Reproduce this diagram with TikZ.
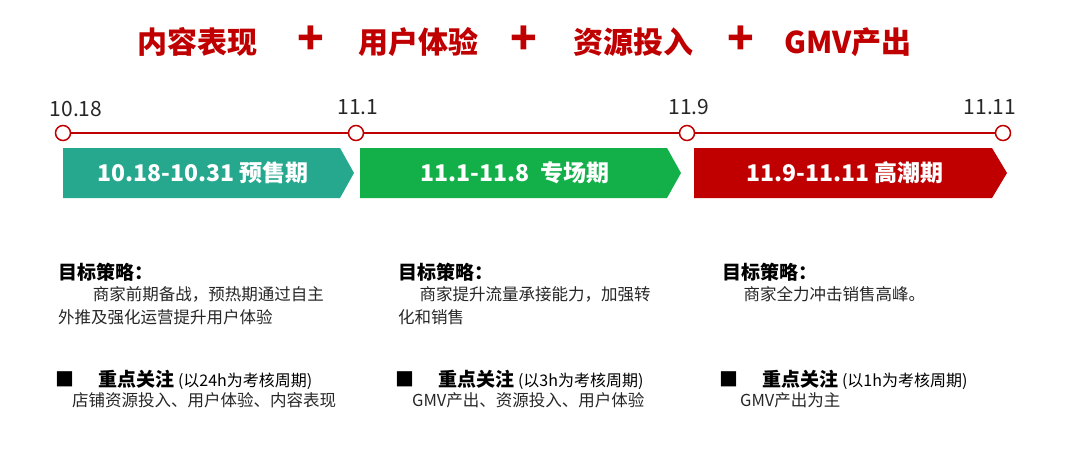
\documentclass[tikz,border=0pt]{standalone}
\usepackage{fontspec}
\setmainfont{Noto Sans CJK SC}
\definecolor{dred}{HTML}{C00000}
\definecolor{teal1}{HTML}{26A88F}
\definecolor{green1}{HTML}{13B04A}
\tikzset{
 ttl/.style={text=dred,font=\fontsize{30}{32}\selectfont\bfseries},
 plus/.style={text=dred,font=\fontsize{44}{44}\selectfont\bfseries},
 dot/.style={circle,draw=dred,fill=white,line width=1.5pt,minimum size=15pt,inner sep=0},
 dlab/.style={font=\fontsize{21}{22}\selectfont,text=black!85},
 phase/.style={text=white,font=\fontsize{23}{24}\selectfont\bfseries},
 hd/.style={anchor=west,font=\fontsize{19}{20}\selectfont\bfseries,inner sep=0},
 bd/.style={anchor=north west,align=left,font=\fontsize{16.5}{23}\selectfont,inner sep=0,text=black!85},
}
\begin{document}
\begin{tikzpicture}[x=1pt,y=-1pt]
\useasboundingbox (0,0) rectangle (1080,472);
\node[ttl] (t1) at (197,42) {内容表现};
\node[plus] (p1) at (311,40) {+};
\node[ttl] (t2) at (418,42) {用户体验};
\node[plus] (p2) at (524,40) {+};
\node[ttl] (t3) at (633,42) {资源投入};
\node[plus] (p3) at (741,40) {+};
\node[ttl] (t4) at (848,42) {GMV产出};
% phases
\fill[teal1] (63,148) -- (340,148) -- (354,173) -- (340,198) -- (63,198) -- cycle;
\fill[green1] (360,148) -- (667,148) -- (681,173) -- (667,198) -- (360,198) -- cycle;
\fill[dred] (694,148) -- (992,148) -- (1007,173) -- (992,198) -- (694,198) -- cycle;
\node[phase] (ph1) at (203,173) {10.18-10.31 预售期};
\node[phase] (ph2) at (515,173) {11.1-11.8 \ 专场期};
\node[phase] (ph3) at (845,173) {11.9-11.11 高潮期};
% timeline
\node[dot] (d1) at (63,133) {};
\node[dot] (d2) at (356,133) {};
\node[dot] (d3) at (687,133) {};
\node[dot] (d4) at (1003,133) {};
\draw[dred,line width=1.5pt] (d1) -- (d2) -- (d3) -- (d4);
\node[dlab] (l1) at (76,109) {10.18};
\node[dlab] (l2) at (358,107) {11.1};
\node[dlab] (l3) at (689,107) {11.9};
\node[dlab] (l4) at (990,107) {11.11};
% columns
\node[hd] (h1) at (58,272) {目标策略：};
\node[bd] (b1) at (58,286) {\hspace*{2.1em}商家前期备战，预热期通过自主\\外推及强化运营提升用户体验};
\node[hd] (k1) at (55,380) {■\hspace{1.3em}重点关注\,{\mdseries\fontsize{16}{17}\selectfont(以24h为考核周期)}};
\node[bd] (c1) at (72,392) {店铺资源投入、用户体验、内容表现};
\node[hd] (h2) at (398,272) {目标策略：};
\node[bd] (b2) at (398,286) {\hspace*{1.3em}商家提升流量承接能力，加强转\\化和销售};
\node[hd] (k2) at (395,380) {■\hspace{1.3em}重点关注\,{\mdseries\fontsize{16}{17}\selectfont(以3h为考核周期)}};
\node[bd] (c2) at (412,392) {GMV产出、资源投入、用户体验};
\node[hd] (h3) at (722,272) {目标策略：};
\node[bd] (b3) at (722,286) {\hspace*{1.3em}商家全力冲击销售高峰。};
\node[hd] (k3) at (719,380) {■\hspace{1.3em}重点关注\,{\mdseries\fontsize{16}{17}\selectfont(以1h为考核周期)}};
\node[bd] (c3) at (740,392) {GMV产出为主};
\end{tikzpicture}
\end{document}
